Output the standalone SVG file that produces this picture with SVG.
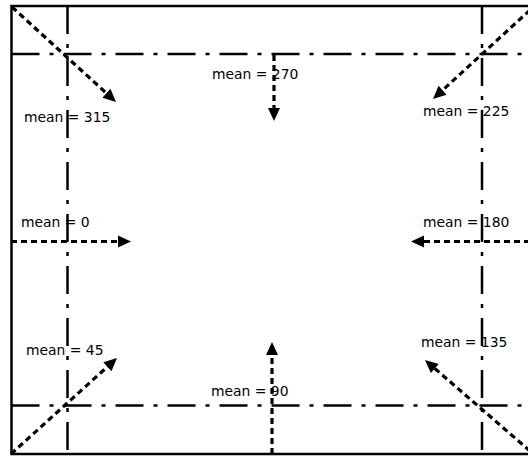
<svg xmlns="http://www.w3.org/2000/svg" width="528" height="457" viewBox="0 0 528 457">
  <style>
    .frame { fill: none; stroke: #000; stroke-width: 2.5; }
    .guide { fill: none; stroke: #000; stroke-width: 2.5; stroke-dasharray: 28 10 4 10; }
    .flow { fill: none; stroke: #000; stroke-width: 3.2; stroke-dasharray: 6 4; marker-end: url(#head); }
    .lbl { font-family: "DejaVu Sans", "Liberation Sans", sans-serif; font-size: 13.9px; fill: #000; }
  </style>
  <defs>
    <marker id="head" markerUnits="userSpaceOnUse" markerWidth="13" markerHeight="12" refX="5" refY="6" orient="auto" overflow="visible">
      <path d="M0,0 L13,6 L0,12 z" fill="#000"/>
    </marker>
  </defs>
  <rect width="528" height="457" fill="#fff"/>

  <!-- outer frame (right side runs past the canvas edge) -->
  <g id="frame">
    <rect class="frame" x="11.5" y="6" width="525" height="448"/>
  </g>

  <!-- dash-dot guide lines -->
  <g id="guides">
    <line class="guide" x1="11.5" y1="54" x2="528" y2="54"/>
    <line class="guide" x1="11.5" y1="405.5" x2="528" y2="405.5"/>
    <line class="guide" x1="67.5" y1="6" x2="67.5" y2="454"/>
    <line class="guide" x1="482" y1="6" x2="482" y2="454"/>
  </g>

  <!-- direction arrows -->
  <g id="connectors">
    <line class="flow" x1="12" y1="7" x2="110.1" y2="96.6"/>
    <line class="flow" x1="530" y1="10" x2="438.9" y2="93.6"/>
    <line class="flow" x1="11" y1="454" x2="111.1" y2="363.4"/>
    <line class="flow" x1="530" y1="451" x2="431" y2="365.2"/>
    <line class="flow" x1="11" y1="241.5" x2="123" y2="241.5"/>
    <line class="flow" x1="530" y1="241.5" x2="419" y2="241.5"/>
    <line class="flow" x1="274" y1="55" x2="274" y2="113"/>
    <line class="flow" x1="272" y1="454" x2="272" y2="350"/>
  </g>

  <!-- labels -->
  <g id="label-270"><text class="lbl" x="212" y="79">mean = 270</text></g>
  <g id="label-315"><text class="lbl" x="24" y="122">mean = 315</text></g>
  <g id="label-225"><text class="lbl" x="423" y="116">mean = 225</text></g>
  <g id="label-0"><text class="lbl" x="21" y="227">mean = 0</text></g>
  <g id="label-180"><text class="lbl" x="423" y="227">mean = 180</text></g>
  <g id="label-45"><text class="lbl" x="26" y="355">mean = 45</text></g>
  <g id="label-135"><text class="lbl" x="421" y="347">mean = 135</text></g>
  <g id="label-90"><text class="lbl" x="211" y="396">mean = 90</text></g>
</svg>
